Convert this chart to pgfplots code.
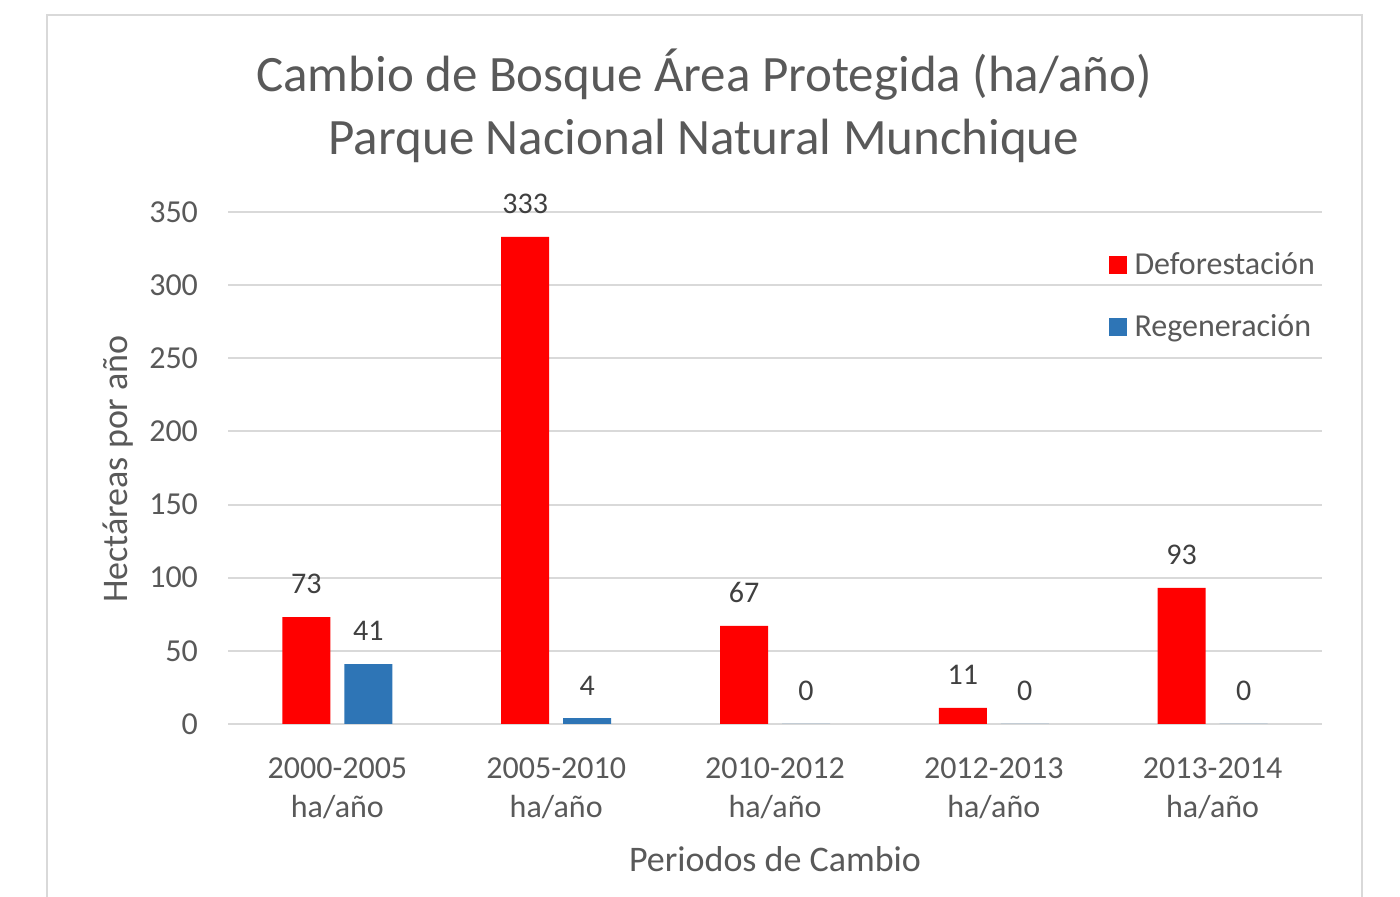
\documentclass[border=0pt]{standalone}
\usepackage{pgfplots}
\pgfplotsset{compat=1.18}
\usepackage{fontspec}
\setmainfont{Carlito}
\definecolor{txt}{HTML}{595959}
\definecolor{lbl}{HTML}{404040}
\definecolor{gridc}{HTML}{D9D9D9}
\definecolor{dfred}{HTML}{FF0000}
\definecolor{rgblue}{HTML}{2E75B6}
\begin{document}
\begin{tikzpicture}[x=1pt,y=1pt]
\useasboundingbox (0,0) rectangle (700,448.5);
\fill[white] (0,0) rectangle (700,448.5);
\draw[color=gridc, line width=1pt] (23.5,0) -- (23.5,441) -- (681,441) -- (681,0);
\begin{axis}[
  at={(114pt,86.5pt)}, anchor=south west,
  scale only axis, width=547pt, height=256pt,
  ybar=7pt, bar width=24pt,
  xmin=-0.5, xmax=4.5, ymin=0, ymax=350,
  ytick={0,50,...,350},
  xtick={0,1,2,3,4},
  xticklabels={{2000-2005\\ha/año},{2005-2010\\ha/año},{2010-2012\\ha/año},{2012-2013\\ha/año},{2013-2014\\ha/año}},
  xticklabel style={align=center, font=\fontsize{16}{19.5}\selectfont, text=txt, yshift=-9pt},
  yticklabel style={font=\fontsize{16}{19.5}\selectfont, text=txt, xshift=-11.5pt},
  /pgf/number format/assume math mode=true,
  axis line style={draw=none},
  tick style={draw=none},
  ymajorgrids, grid style={gridc, line width=1pt},
  nodes near coords,
  every node near coord/.append style={font=\fontsize{15}{18}\selectfont, text=lbl, yshift=8pt},
  legend style={at={(rel axis cs:0.799,0.937)}, anchor=north west, draw=none, fill=none,
    font=\fontsize{16}{19.5}\selectfont, text=txt, row sep=14.5pt},
  legend cell align=left,
  legend image code/.code={\fill[#1] (0pt,-4.5pt) rectangle (9pt,4.5pt); \path (11pt,0pt);},
]
\addplot[fill=dfred, draw=none]
  coordinates {(0,73) (1,333) (2,67) (3,11) (4,93)};
\addlegendentry{Deforestación}
\addplot[fill=rgblue, draw=none]
  coordinates {(0,41) (1,4) (2,0) (3,0) (4,0)};
\addlegendentry{Regeneración}
\end{axis}
\node[text=txt, font=\fontsize{25.5}{30}\selectfont] at (352,411) {Cambio de Bosque Área Protegida (ha/año)};
\node[text=txt, font=\fontsize{25.5}{30}\selectfont] at (352,378) {Parque Nacional Natural Munchique};
\node[text=txt, font=\fontsize{18}{22}\selectfont, rotate=90] at (59,214) {Hectáreas por año};
\node[text=txt, font=\fontsize{18}{22}\selectfont] at (387.5,19) {Periodos de Cambio};
\end{tikzpicture}
\end{document}
